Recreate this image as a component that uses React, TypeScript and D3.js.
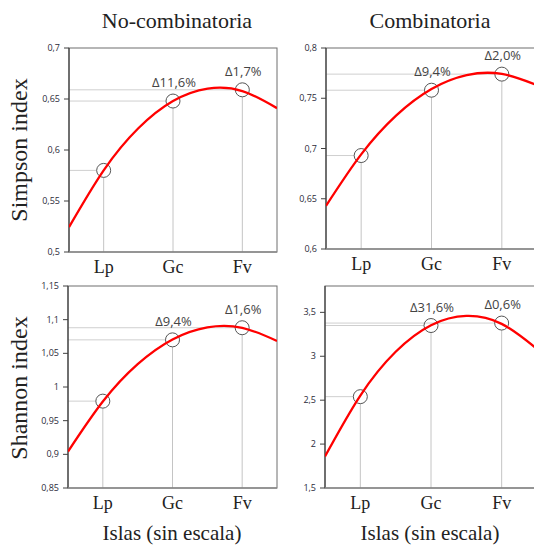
import React from "react";
import * as d3 from "d3";

const categories = ["Lp", "Gc", "Fv"];

const simpsonNoComb = [0.58, 0.648, 0.659];
const simpsonComb = [0.693, 0.758, 0.774];
const shannonNoComb = [0.979, 1.07, 1.088];
const shannonComb = [2.54, 3.35, 3.378];

const deltaSimpsonNoComb = ["", "\u039411,6%", "\u03941,7%"];
const deltaSimpsonComb = ["", "\u03949,4%", "\u03942,0%"];
const deltaShannonNoComb = ["", "\u03949,4%", "\u03941,6%"];
const deltaShannonComb = ["", "\u039431,6%", "\u03940,6%"];

// trend curve at category positions -0.5 .. 2.5
const trendPos = [-0.5, 0, 0.5, 1, 1.5, 2, 2.5];
const trendSimpsonNoComb = [0.5244, 0.5801, 0.6213, 0.648, 0.6602, 0.6578, 0.641];
const trendSimpsonComb = [0.643, 0.6942, 0.733, 0.7592, 0.773, 0.7742, 0.763];
const trendShannonNoComb = [0.9041, 0.9784, 1.0339, 1.0706, 1.0886, 1.0879, 1.0684];
const trendShannonComb = [1.86, 2.553, 3.051, 3.353, 3.459, 3.369, 3.083];

const ticksSimpsonNoComb = [0.5, 0.55, 0.6, 0.65, 0.7];
const ticksSimpsonComb = [0.6, 0.65, 0.7, 0.75, 0.8];
const ticksShannonNoComb = [0.85, 0.9, 0.95, 1, 1.05, 1.1, 1.15];
const ticksShannonComb = [1.5, 2, 2.5, 3, 3.5];

const colTitles = ["No-combinatoria", "Combinatoria"];
const rowTitles = ["Simpson index", "Shannon index"];
const xTitle = "Islas (sin escala)";

type PanelDef = {
  id: string;
  x0: number; x1: number; y0: number; y1: number;
  domain: [number, number];
  ticks: number[];
  values: number[];
  deltas: string[];
  trend: number[];
};

const panels: PanelDef[] = [
  { id: "tl", x0: 69, x1: 277, y0: 48, y1: 252, domain: [0.5, 0.7], ticks: ticksSimpsonNoComb, values: simpsonNoComb, deltas: deltaSimpsonNoComb, trend: trendSimpsonNoComb },
  { id: "tr", x0: 326, x1: 537, y0: 48, y1: 249, domain: [0.6, 0.8], ticks: ticksSimpsonComb, values: simpsonComb, deltas: deltaSimpsonComb, trend: trendSimpsonComb },
  { id: "bl", x0: 68, x1: 277, y0: 286, y1: 488, domain: [0.85, 1.15], ticks: ticksShannonNoComb, values: shannonNoComb, deltas: deltaShannonNoComb, trend: trendShannonNoComb },
  { id: "br", x0: 325, x1: 537, y0: 286, y1: 488, domain: [1.5, 3.8], ticks: ticksShannonComb, values: shannonComb, deltas: deltaShannonComb, trend: trendShannonComb },
];

const fmt = (v: number) => String(+v.toFixed(2)).replace(".", ",");

const SERIF = "'Liberation Serif', 'Times New Roman', serif";
const SANS = "'Open Sans', 'Liberation Sans', sans-serif";

function Panel({ p }: { p: PanelDef }) {
  const xb = d3.scaleBand<string>().domain(categories).range([p.x0, p.x1]);
  const xc = (c: string) => (xb(c) as number) + xb.bandwidth() / 2;
  const xt = d3.scaleLinear().domain([-0.5, 2.5]).range([p.x0, p.x1]);
  const y = d3.scaleLinear().domain(p.domain).range([p.y1, p.y0]);
  const r = 7;
  const line = d3
    .line<number>()
    .x((_, i) => xt(trendPos[i]))
    .y((d) => y(d))
    .curve(d3.curveNatural);
  return (
    <g>
      <defs>
        <clipPath id={"clip-" + p.id}>
          <rect x={p.x0} y={p.y0} width={p.x1 - p.x0} height={p.y1 - p.y0} />
        </clipPath>
      </defs>
      {/* guide lines */}
      {categories.map((c, i) => (
        <g key={"g" + c}>
          <line x1={p.x0} x2={xc(c) - r} y1={y(p.values[i])} y2={y(p.values[i])} stroke="#cfcfcf" strokeWidth={1} />
          <line x1={xc(c)} x2={xc(c)} y1={p.y1} y2={y(p.values[i]) + r} stroke="#c4c4c4" strokeWidth={1} />
        </g>
      ))}
      {/* frame */}
      <rect x={p.x0} y={p.y0} width={p.x1 - p.x0} height={p.y1 - p.y0} fill="none" stroke="#6e6e6e" strokeWidth={1} />
      <line x1={p.x0} x2={p.x0} y1={p.y0} y2={p.y1} stroke="#404040" strokeWidth={1.2} />
      <line x1={p.x0} x2={p.x1} y1={p.y1} y2={p.y1} stroke="#8a8a8a" strokeWidth={1.6} />
      {/* y ticks */}
      {p.ticks.map((t) => (
        <g key={"t" + t}>
          <line x1={p.x0 - 5} x2={p.x0} y1={y(t)} y2={y(t)} stroke="#404040" strokeWidth={1} />
          <text x={p.x0 - 9} y={y(t)} dy="0.35em" textAnchor="end" fontFamily={SANS} fontSize={9} fill="#2b2b3a">
            {fmt(t)}
          </text>
        </g>
      ))}
      {/* circles */}
      {categories.map((c, i) => (
        <circle key={"c" + c} cx={xc(c)} cy={y(p.values[i])} r={r} fill="none" stroke="#555" strokeWidth={1} />
      ))}
      {/* trend */}
      <path d={line(p.trend) || ""} fill="none" stroke="#ff0000" strokeWidth={2.3} clipPath={`url(#clip-${p.id})`} />
      {/* deltas */}
      {categories.map((c, i) =>
        p.deltas[i] ? (
          <text key={"d" + c} x={xc(c) + 1} y={y(p.values[i]) - 14} textAnchor="middle" fontFamily={SANS} fontSize={13} fill="#444">
            {p.deltas[i]}
          </text>
        ) : null
      )}
      {/* category labels */}
      {categories.map((c) => (
        <text key={"x" + c} x={xc(c)} y={p.y1 + 21} textAnchor="middle" fontFamily={SERIF} fontSize={18} fill="#222">
          {c}
        </text>
      ))}
    </g>
  );
}

export default function App() {
  return (
    <svg width={534} height={547} style={{ position: "absolute", left: 0, top: 0, background: "#fff" }}>
      <rect width={534} height={547} fill="#fff" />
      {panels.map((p) => (
        <Panel key={p.id} p={p} />
      ))}
      <text x={177} y={28} textAnchor="middle" fontFamily={SERIF} fontSize={22} fill="#222">{colTitles[0]}</text>
      <text x={430} y={28} textAnchor="middle" fontFamily={SERIF} fontSize={22} fill="#222">{colTitles[1]}</text>
      <text transform="translate(27,150) rotate(-90)" textAnchor="middle" fontFamily={SERIF} fontSize={24} fill="#222">{rowTitles[0]}</text>
      <text transform="translate(27,388) rotate(-90)" textAnchor="middle" fontFamily={SERIF} fontSize={24} fill="#222">{rowTitles[1]}</text>
      <text x={172} y={540} textAnchor="middle" fontFamily={SERIF} fontSize={21} fill="#222">{xTitle}</text>
      <text x={430} y={540} textAnchor="middle" fontFamily={SERIF} fontSize={21} fill="#222">{xTitle}</text>
    </svg>
  );
}
